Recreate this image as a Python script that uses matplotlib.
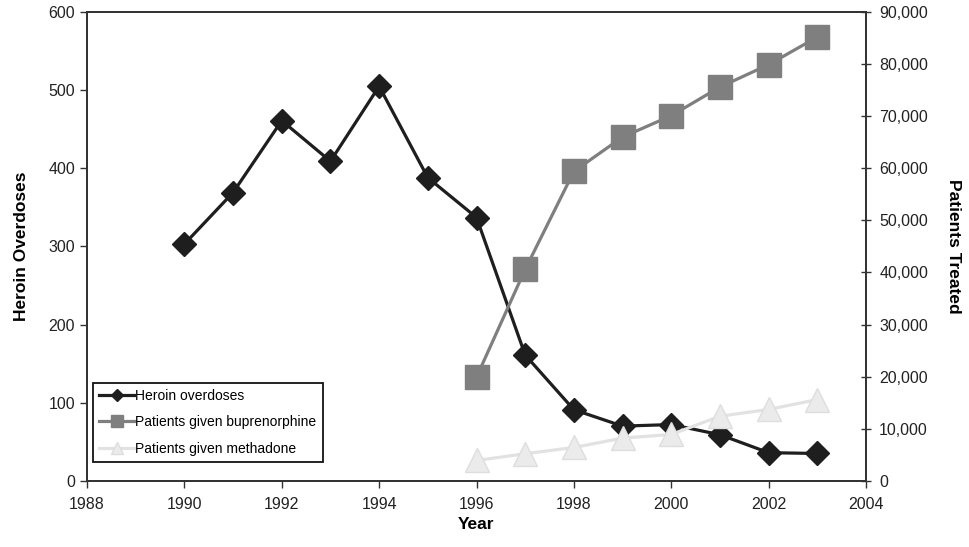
import matplotlib
matplotlib.use("Agg")
import matplotlib.pyplot as plt
from matplotlib.ticker import FuncFormatter

plt.rcParams['font.family'] = ['Liberation Sans', 'DejaVu Sans']

# heroin overdoses (left axis)
years_heroin = [1990, 1991, 1992, 1993, 1994, 1995, 1996, 1997, 1998, 1999, 2000, 2001, 2002, 2003]
heroin_overdoses = [303, 369, 461, 409, 505, 388, 337, 161, 91, 70, 72, 59, 36, 35]

# patients treated (right axis)
years_treat = [1996, 1997, 1998, 1999, 2000, 2001, 2002, 2003]
buprenorphine = [19900, 40600, 59400, 66000, 70100, 75600, 79900, 85200]
methadone = [3900, 5200, 6400, 8200, 8900, 12400, 13700, 15600]

fig = plt.figure(figsize=(9.69, 5.47), dpi=100)
ax = fig.add_axes([0.0898, 0.121, 0.8039, 0.857])
ax2 = ax.twinx()

l1, = ax.plot(years_heroin, heroin_overdoses, color='#1e1e1e', lw=2.3,
              marker='D', markersize=12, markeredgecolor='#1e1e1e',
              label='Heroin overdoses', zorder=3)
l2, = ax2.plot(years_treat, buprenorphine, color='#7f7f7f', lw=2.3,
               marker='s', markersize=17, markeredgecolor='#7f7f7f',
               label='Patients given buprenorphine', zorder=3)
l3, = ax2.plot(years_treat, methadone, color='#e2e2e2', lw=2.3,
               marker='^', markersize=17, markerfacecolor='#ebebeb',
               markeredgecolor='#dedede', label='Patients given methadone', zorder=2)

ax.set_xlim(1988, 2004)
ax.set_ylim(0, 600)
ax2.set_ylim(0, 90000)
ax.set_xticks(range(1988, 2005, 2))
ax.set_yticks(range(0, 601, 100))
ax2.set_yticks(range(0, 90001, 10000))
ax2.yaxis.set_major_formatter(FuncFormatter(lambda v, p: f"{int(v):,}"))

for a in (ax, ax2):
    for s in a.spines.values():
        s.set_color('#333333')
        s.set_linewidth(1.3)
ax.tick_params(axis='both', labelsize=11.5, length=5, width=1, color='#333333',
               labelcolor='#222222')
ax.tick_params(axis='x', pad=7)
ax2.tick_params(axis='y', labelsize=11.5, length=7, width=1, direction='inout',
                pad=6, color='#333333', labelcolor='#222222')

ax.set_xlabel('Year', fontsize=12.5, fontweight='bold', labelpad=3)
ax.set_ylabel('Heroin Overdoses', fontsize=12.5, fontweight='bold', labelpad=14)
ax2.set_ylabel('Patients Treated', fontsize=12.5, fontweight='bold', rotation=270,
               labelpad=24)

leg = ax2.legend(handles=[l1, l2, l3], loc='lower left',
                 bbox_to_anchor=(0.004, 0.034), fontsize=10, frameon=True,
                 fancybox=False, handlelength=2.5, handletextpad=0.1,
                 labelspacing=0.9, borderpad=0.45, borderaxespad=0.2,
                 markerscale=0.55)
leg.get_frame().set_edgecolor('#111111')
leg.get_frame().set_linewidth(1.3)
leg.get_frame().set_alpha(1)

fig.savefig('out.png', dpi=100)
